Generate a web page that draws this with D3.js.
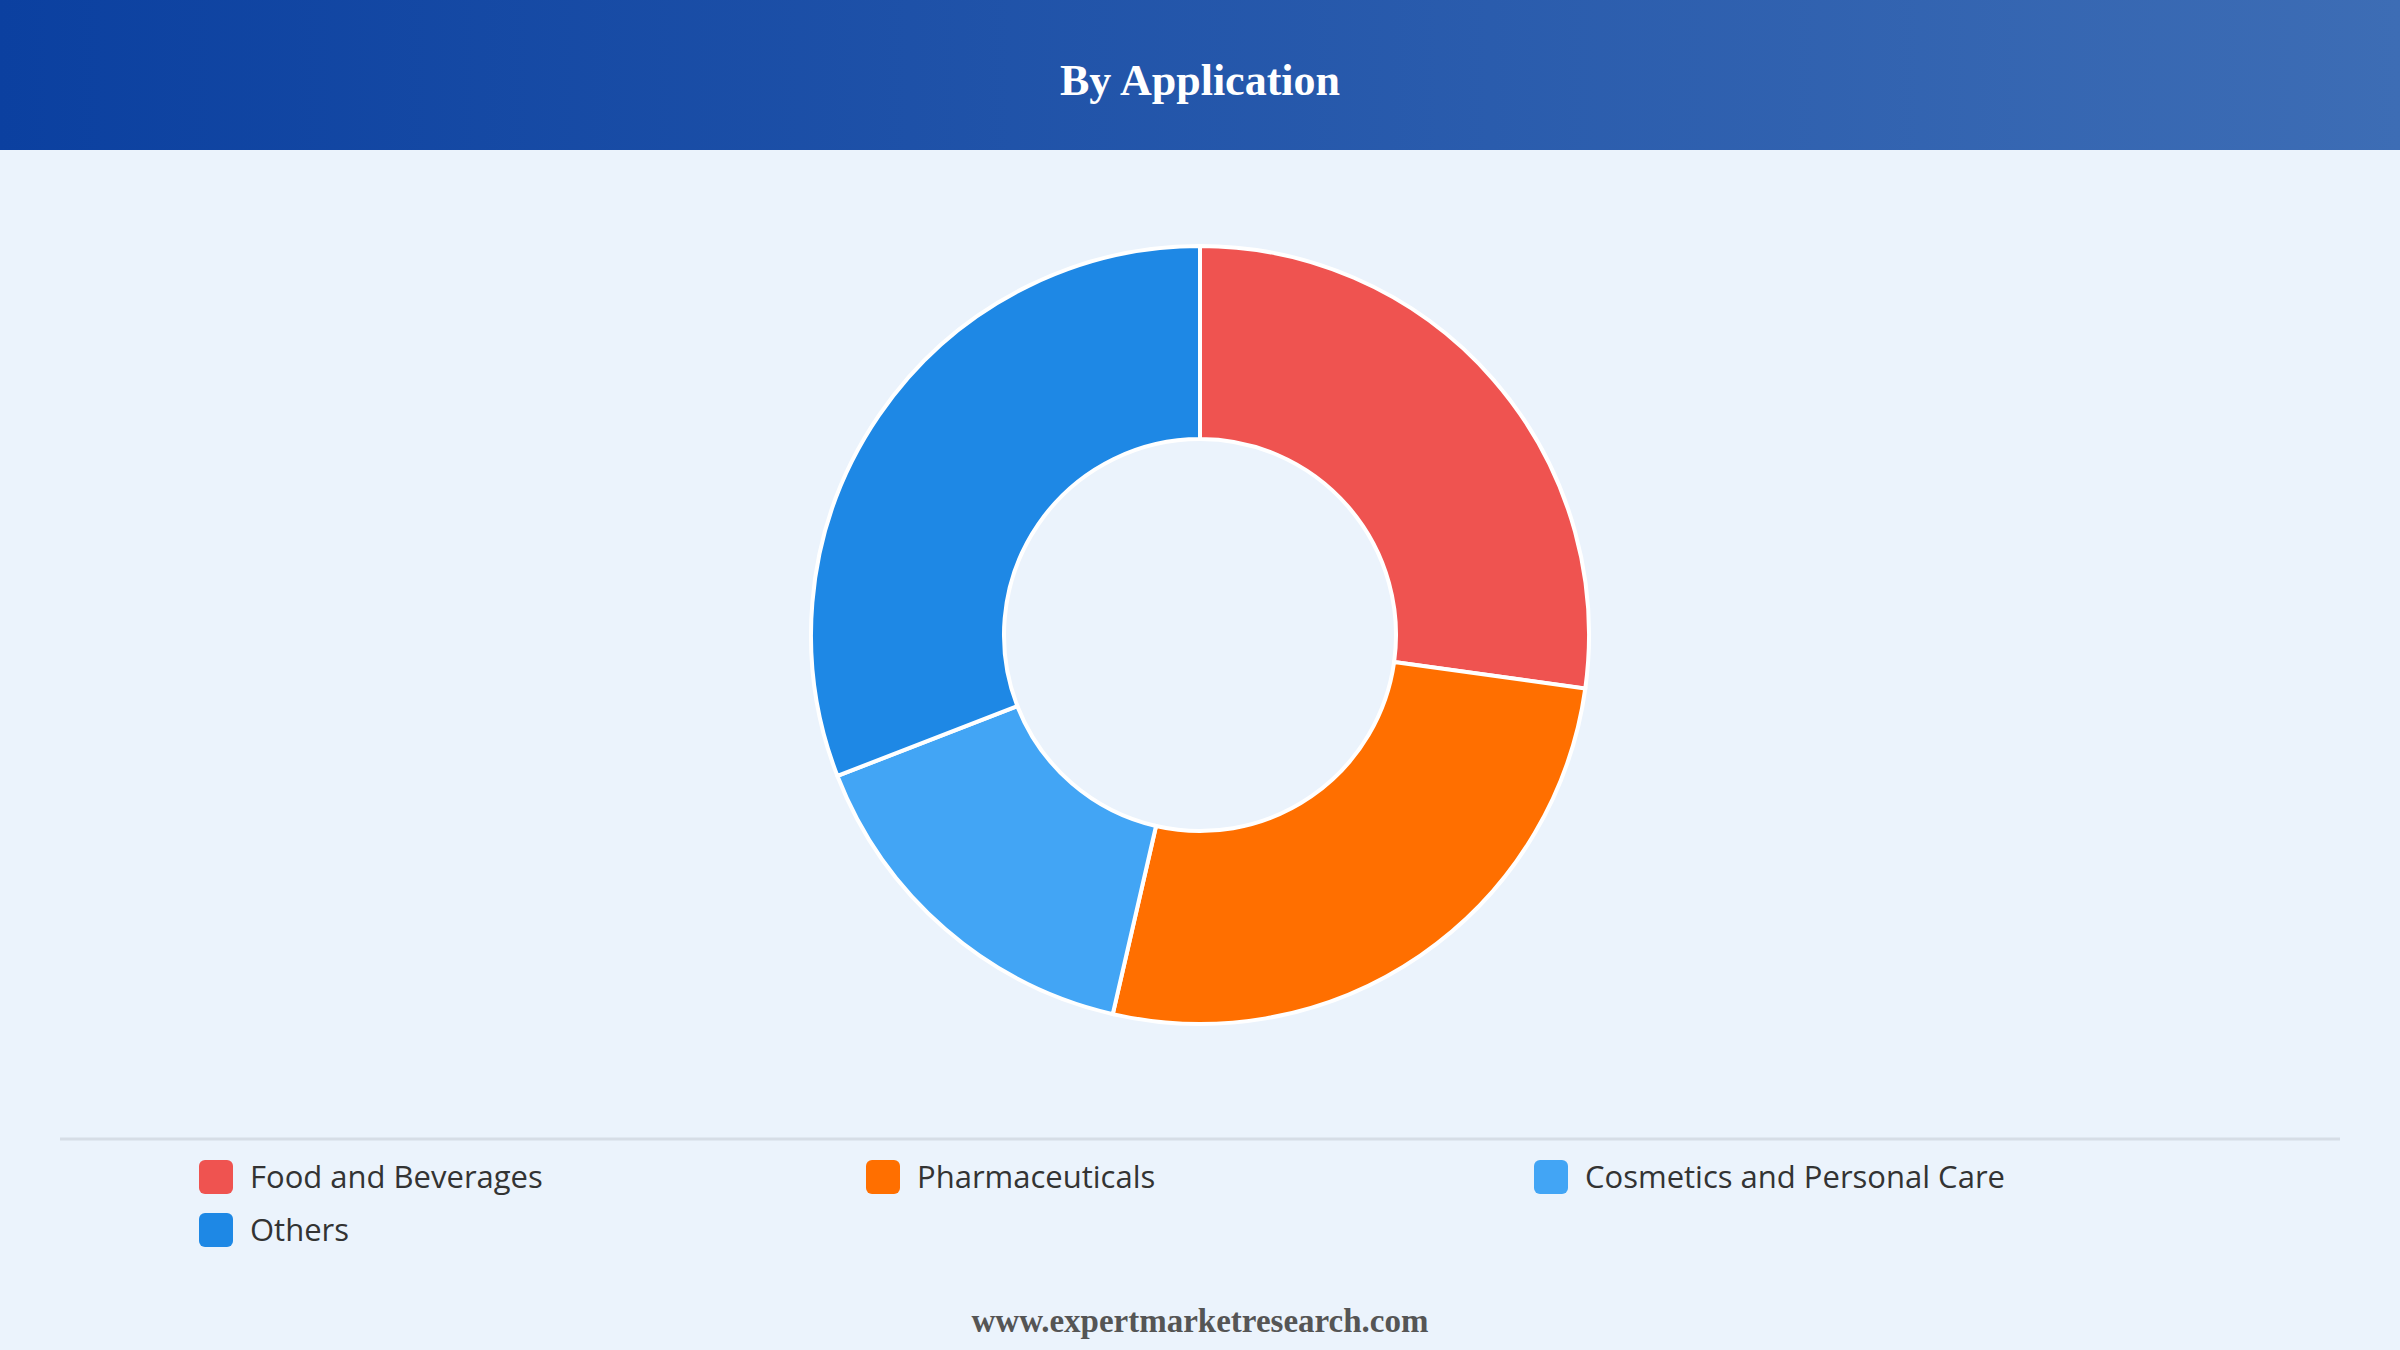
<!DOCTYPE html>
<html><head><meta charset="utf-8">
<script src="https://cdn.jsdelivr.net/npm/d3@7"></script>
<style>body{margin:0;background:#ebf3fc;}svg{display:block}</style>
</head><body>
<svg id="c" width="2400" height="1350"></svg>
<script>
const categories = ["Food and Beverages","Pharmaceuticals","Cosmetics and Personal Care","Others"];
const values = [27.2, 26.4, 15.5, 30.9];
const colors = ["#ef5350","#ff6f00","#42a5f5","#1e88e5"];

const svg = d3.select("#c");
const defs = svg.append("defs");
const g = defs.append("linearGradient").attr("id","hg");
g.append("stop").attr("offset","0%").attr("stop-color","#0b40a0");
g.append("stop").attr("offset","100%").attr("stop-color","#3d6db5");
svg.append("rect").attr("width",2400).attr("height",1350).attr("fill","#ebf3fc");
svg.append("rect").attr("width",2400).attr("height",150).attr("fill","url(#hg)");
svg.append("text").attr("x",1200).attr("y",95).attr("text-anchor","middle")
  .attr("font-family","Liberation Serif, serif").attr("font-weight","bold")
  .attr("font-size",44).attr("fill","#fff").text("By Application");

const pie = d3.pie().sort(null).value(d=>d);
const arc = d3.arc().innerRadius(196).outerRadius(389);
svg.append("g").attr("transform","translate(1200,635)")
  .selectAll("path").data(pie(values)).join("path")
  .attr("d",arc).attr("fill",(d,i)=>colors[i])
  .attr("stroke","#fff").attr("stroke-width",4);

svg.append("line").attr("x1",60).attr("x2",2340).attr("y1",1139).attr("y2",1139)
  .attr("stroke","#d6dde6").attr("stroke-width",3);

const cols=[199,866,1534];
const leg = svg.selectAll(".lg").data(categories).join("g")
  .attr("transform",(d,i)=>`translate(${cols[i%3]},${1177+Math.floor(i/3)*53})`);
leg.append("rect").attr("x",0).attr("y",-17).attr("width",34).attr("height",34).attr("rx",6)
  .attr("fill",(d,i)=>colors[i]);
leg.append("text").attr("x",51).attr("y",0).attr("dy","0.35em")
  .attr("font-family","Open Sans, Noto Sans, sans-serif").attr("font-size",31)
  .attr("fill","#333").text(d=>d);

svg.append("text").attr("x",1200).attr("y",1332).attr("text-anchor","middle")
  .attr("font-family","Liberation Serif, serif").attr("font-weight","bold")
  .attr("font-size",33).attr("fill","#555").text("www.expertmarketresearch.com");
</script>
</body></html>
